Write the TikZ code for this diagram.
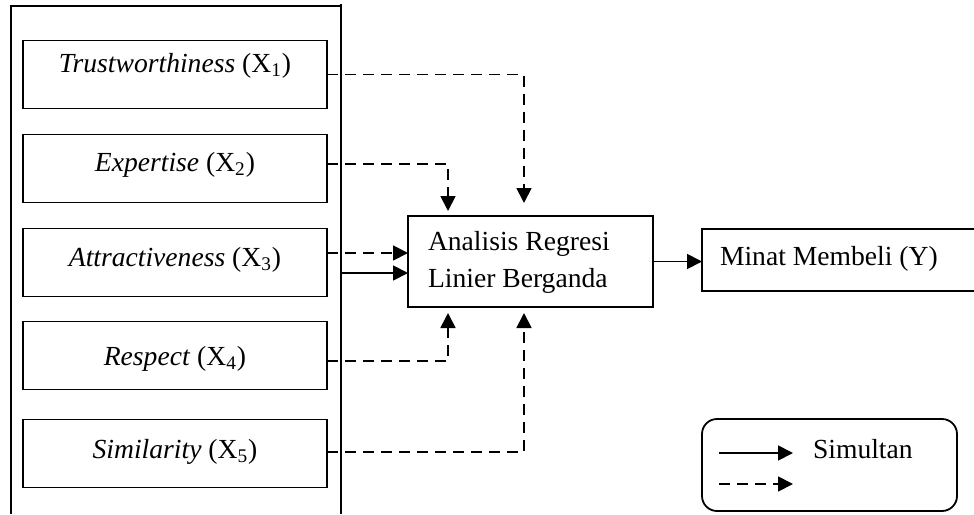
\documentclass[tikz,border=0pt]{standalone}
\usepackage{fontspec}
\setmainfont{Liberation Serif}
\usetikzlibrary{arrows.meta}

\tikzset{
  every picture/.style={line width=0.9pt},
  txt/.style={font=\fontsize{13.8}{18.5}\selectfont, inner sep=0pt, outer sep=0pt},
  varbox/.style={draw, inner sep=0pt, outer sep=0pt, minimum width=152pt, minimum height=34pt},
  plainbox/.style={draw, inner sep=0pt, outer sep=0pt},
  tip/.style={-{Triangle[length=7.5pt,width=7.5pt]}},
  dsh/.style={dash pattern=on 5.5pt off 3.5pt},
  partarrow/.style={tip, dsh},
  simarrow/.style={tip},
}

\begin{document}
\begin{tikzpicture}[x=0.5pt,y=-0.5pt]
\useasboundingbox (0,0) rectangle (974,514);
\clip (0,0) rectangle (974,514);

% frame round the independent variables (open at the foot)
\coordinate (fl) at (11,514);
\coordinate (ftl) at (11,6);
\coordinate (ftr) at (341,6);
\coordinate (ftop) at (341,4);
\coordinate (fbr) at (341,514);
\draw (fl) -- (ftl) -- (ftr);
\draw (ftop) -- (fbr);

% independent variables
\node[varbox] (b1) at (175,74.5) {};
\node[varbox] (b2) at (175,168.5) {};
\node[varbox] (b3) at (175,262.5) {};
\node[varbox] (b4) at (175,355.5) {};
\node[varbox] (b5) at (175,453.5) {};
\node[txt, anchor=base] (t1) at (175,72)  {\textit{Trustworthiness} (X\textsubscript{1})};
\node[txt, anchor=base] (t2) at (175,171) {\textit{Expertise} (X\textsubscript{2})};
\node[txt, anchor=base] (t3) at (175,266) {\textit{Attractiveness} (X\textsubscript{3})};
\node[txt, anchor=base] (t4) at (175,365) {\textit{Respect} (X\textsubscript{4})};
\node[txt, anchor=base] (t5) at (175,458) {\textit{Similarity} (X\textsubscript{5})};

% regression box
\node[plainbox, minimum width=122.5pt, minimum height=45.5pt] (reg) at (530.5,261.5) {};
\node[txt, anchor=base west] (r1) at (428,250) {Analisis Regresi};
\node[txt, anchor=base west] (r2) at (428,287) {Linier Berganda};

% dependent variable
\node[plainbox, minimum width=149pt, minimum height=31pt] (dep) at (851,260) {};
\node[txt, anchor=base west] (dt) at (720,265) {Minat Membeli (Y)};

% levels and end points of the connectors
\coordinate (y2) at (0,164);
\coordinate (y3) at (0,253);
\coordinate (y3s) at (0,273);
\coordinate (y4) at (0,361);
\coordinate (y5) at (0,452);
\coordinate (e1) at (524,203);
\coordinate (e2) at (448,211);
\coordinate (e4) at (448,313);
\coordinate (e5) at (524,313);

\draw[partarrow] (b1.east) -| (e1);
\draw[partarrow] (b2.east |- y2) -| (e2);
\draw[partarrow] (b3.east |- y3) -- (reg.west |- y3);
\draw[simarrow] (ftr |- y3s) -- (reg.west |- y3s);
\draw[partarrow] (b4.east |- y4) -| (e4);
\draw[partarrow] (b5.east |- y5) -| (e5);
\draw[simarrow] (reg.east) -- (reg.east -| dep.west);

% legend
\node[plainbox, rounded corners=7.5pt, minimum width=127.5pt, minimum height=46pt] (leg) at (829.5,465) {};
\coordinate (ls1) at (719,453);
\coordinate (le1) at (793,453);
\coordinate (ls2) at (719,484);
\coordinate (le2) at (793,484);
\draw[simarrow] (ls1) -- (le1);
\draw[partarrow] (ls2) -- (le2);
\node[txt, anchor=base west] (lt) at (813,458) {Simultan};
\end{tikzpicture}
\end{document}
